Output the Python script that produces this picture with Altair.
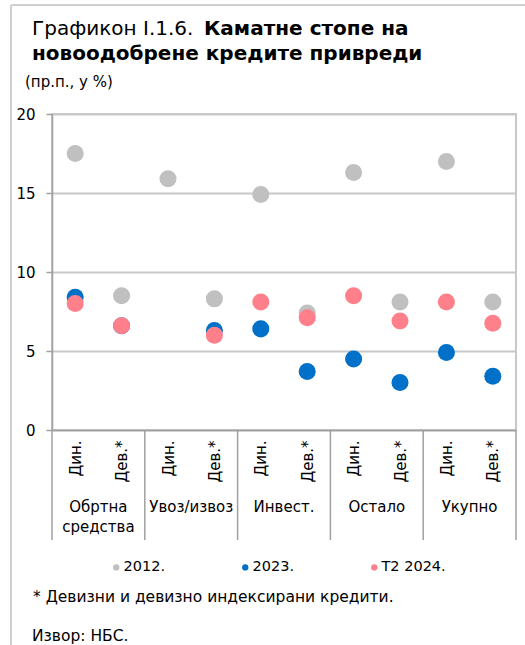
import altair as alt
import pandas as pd

# ---------------- data ----------------
groups = ["Обртна\nсредства", "Увоз/извоз", "Инвест.", "Остало", "Укупно"]
subcats = ["Дин.", "Дев.*"]
series = ["2012.", "2023.", "Т2 2024."]
colors = ["#C0C0C0", "#0070C8", "#FF808B"]

v2012 = [17.5, 8.5, 15.9, 8.3, 14.9, 7.4, 16.3, 8.1, 17.0, 8.1]
v2023 = [8.4, 6.6, None, 6.3, 6.4, 3.7, 4.5, 3.0, 4.9, 3.4]
vT2 = [8.0, 6.6, None, 6.0, 8.1, 7.1, 8.5, 6.9, 8.1, 6.75]

y_ticks = [0, 5, 10, 15, 20]

title_regular = "Графикон I.1.6. "
title_bold_1 = "Каматне стопе на"
title_bold_2 = "новоодобрене кредите привреди"
unit_text = "(пр.п., у %)"
footnote = "* Девизни и девизно индексирани кредити."
source = "Извор: НБС."

# ---------------- tables ----------------
n_slots = len(groups) * len(subcats)
rows = []
for k, (s, vals) in enumerate(zip(series, [v2012, v2023, vT2])):
    for i, v in enumerate(vals):
        if v is not None:
            rows.append({"slot": i + 0.5, "value": v, "series": s, "order": k})
df = pd.DataFrame(rows)

sep_df = pd.DataFrame({"slot": [i * len(subcats) for i in range(len(groups) + 1)]})
grp_df = pd.DataFrame({"slot": [i * len(subcats) + len(subcats) / 2 for i in range(len(groups))],
                       "label": groups})

AX = "#A0A0A0"
FONT = "DejaVu Sans"

label_expr = "[" + ",".join("'" + s + "'" for s in subcats) + "][floor(datum.value) % 2]"

x_enc = alt.X(
    "slot:Q",
    scale=alt.Scale(domain=[0, n_slots], nice=False, zero=False),
    axis=alt.Axis(
        values=[i + 0.5 for i in range(n_slots)],
        labelExpr=label_expr,
        labelAngle=270,
        ticks=False,
        labelPadding=10,
        labelFontSize=15,
        labelColor="#000000",
        grid=False,
        domainColor=AX,
        domainWidth=1.5,
        title=None,
    ),
)

points = alt.Chart(df).mark_circle(size=290, opacity=1).encode(
    x=x_enc,
    y=alt.Y(
        "value:Q",
        scale=alt.Scale(domain=[0, 20], nice=False),
        axis=alt.Axis(
            values=y_ticks,
            tickSize=6,
            tickColor=AX,
            tickWidth=1.5,
            labelPadding=11,
            labelFontSize=15,
            labelColor="#000000",
            grid=True,
            gridColor="#C8C8C8",
            gridWidth=2,
            domainColor=AX,
            domainWidth=1.5,
            title=None,
        ),
    ),
    color=alt.Color(
        "series:N",
        scale=alt.Scale(domain=series, range=colors),
        legend=alt.Legend(
            title=None,
            orient="none",
            legendX=57,
            legendY=446,
            direction="horizontal",
            symbolType="circle",
            symbolSize=40,
            symbolStrokeWidth=0,
            labelFontSize=14.5,
            labelOffset=0,
            columnPadding=72,
            labelColor="#000000",
        ),
    ),
    order="order:Q",
)

seps = alt.Chart(sep_df).mark_rule(color=AX, strokeWidth=1.5).encode(
    x=alt.X("slot:Q"), y=alt.value(316), y2=alt.value(426)
)

grp_text = alt.Chart(grp_df).mark_text(
    fontSize=15, lineBreak="\n", baseline="alphabetic", align="center", lineHeight=20, color="#000000"
).encode(x=alt.X("slot:Q"), y=alt.value(398), text="label:N")


def txt(s, x, y, size, bold=False):
    return alt.Chart(pd.DataFrame({"t": [s]})).mark_text(
        fontSize=size, fontWeight="bold" if bold else "normal", align="left",
        baseline="alphabetic", color="#000000"
    ).encode(x=alt.value(x), y=alt.value(y), text="t:N")


frame_top = alt.Chart(pd.DataFrame({"a": [0]})).mark_rule(color="#D0D0D0", strokeWidth=2).encode(
    x=alt.value(-41), x2=alt.value(480), y=alt.value(-109)
)
frame_left = alt.Chart(pd.DataFrame({"a": [0]})).mark_rule(color="#D0D0D0", strokeWidth=2).encode(
    x=alt.value(-41), y=alt.value(-109), y2=alt.value(540)
)

chart = alt.layer(
    frame_top,
    frame_left,
    seps,
    grp_text,
    points,
    txt(title_regular, -20, -79, 20),
    txt(title_bold_1, 152, -79, 20, True),
    txt(title_bold_2, -20, -54, 20, True),
    txt(unit_text, -27, -27, 15),
    txt(footnote, -19, 488, 15.5),
    txt(source, -20, 527, 15.5),
).properties(
    width=464,
    height=316,
    autosize=alt.AutoSizeParams(type="none"),
    padding={"left": 52, "top": 114, "right": 9, "bottom": 215},
).configure(font=FONT).configure_view(stroke="#C8C8C8", strokeWidth=2)

chart.save("out.html", embed_options={"renderer": "svg", "actions": False})
